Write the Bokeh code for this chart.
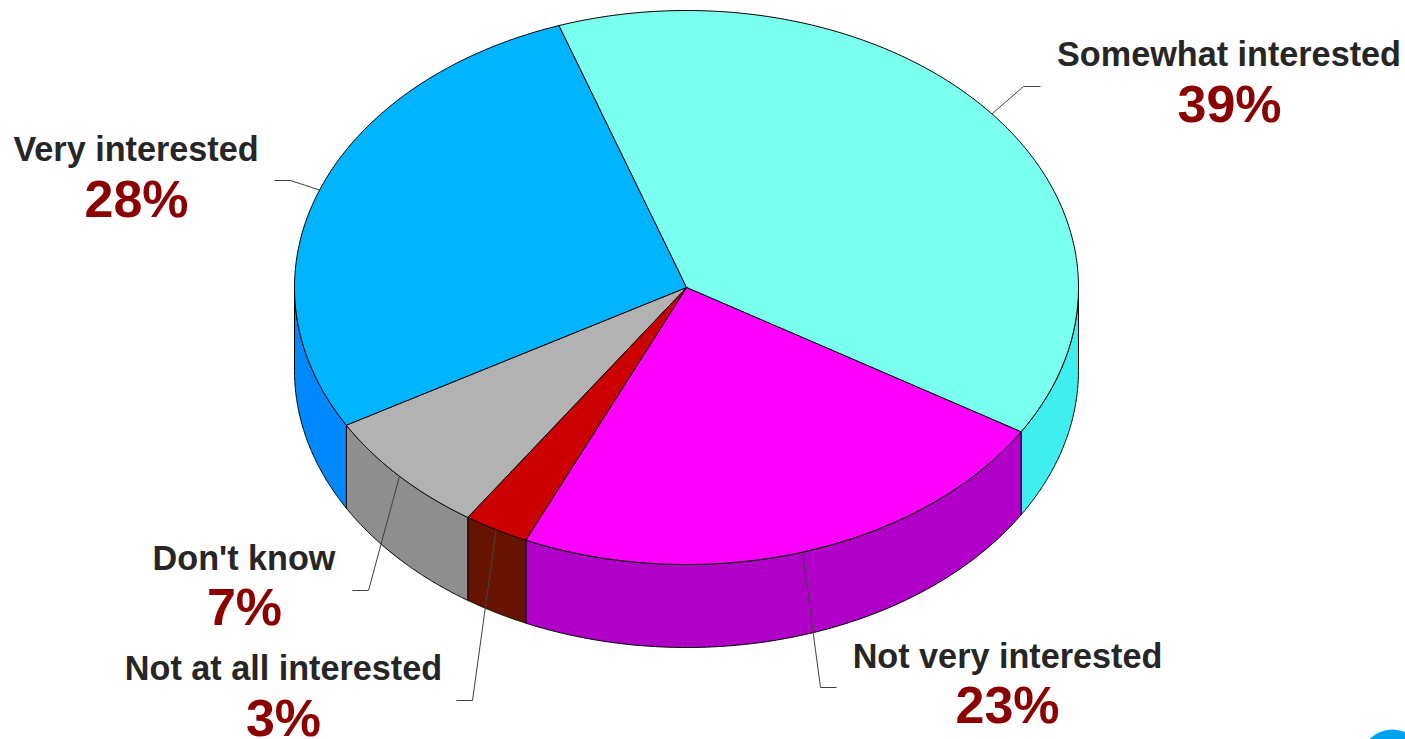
import numpy as np
from bokeh.plotting import figure
from bokeh.models import Range1d
from bokeh.core.properties import value
from bokeh.embed import file_html
from bokeh.resources import INLINE

categories = ["Somewhat interested", "Not very interested", "Not at all interested", "Don't know", "Very interested"]
shares = [39, 23, 2.7, 7.3, 28]
top_colors = ["#7BFFEE", "#FF00FF", "#CC0000", "#B2B2B2", "#00B4FF"]
side_colors = ["#40EEEE", "#B000C8", "#661400", "#8E8E8E", "#0088FF"]

# layout (in page pixels)
W, H = 1405, 739
CX, CY, RX, RY, DEPTH = 686, 287, 392, 277, 83
START = 109.0
LABEL_SIZE, VALUE_SIZE = 34.2, 52
BASE_SHIFT = 0.38
elbows = [(1023, 86, 1040), (820, 687, 836), (472, 700, 456), (368, 590, 352), (290, 180, 274)]
label_pos = [(1228.5, 66), (1007, 668), (283, 680), (243.5, 570), (135.5, 161)]
value_pos = [(1229, 123), (1007, 724), (283, 737), (244, 626), (136, 218)]

p = figure(width=W, height=H, x_range=Range1d(0, W), y_range=Range1d(H, 0),
           toolbar_location=None, output_backend="svg", min_border=0,
           outline_line_color=None, background_fill_color="white", border_fill_color="white")
p.axis.visible = False
p.grid.visible = False


def ex(a):
    return CX + RX * np.cos(np.radians(a))


def ey(a):
    return CY - RY * np.sin(np.radians(a))


bounds = START - np.cumsum([0] + [s * 3.6 for s in shares])

# side walls (front half only: parameter angle between 180 and 360 degrees)
sx, sy, sc = [], [], []
for i in range(len(shares)):
    hi, lo = bounds[i] % 360, (bounds[i] % 360) - shares[i] * 3.6
    for shift in (0, 360, -360):
        a0, a1 = max(lo + shift, 180), min(hi + shift, 360)
        if a1 > a0:
            a = np.linspace(a0, a1, 120)
            sx.append(np.r_[ex(a), ex(a[::-1])])
            sy.append(np.r_[ey(a), ey(a[::-1]) + DEPTH])
            sc.append(side_colors[i])
p.patches(sx, sy, fill_color=sc, line_color="black", line_width=1)

# top faces
tx, ty = [], []
for i in range(len(shares)):
    a = np.linspace(bounds[i], bounds[i + 1], 240)
    tx.append(np.r_[CX, ex(a)])
    ty.append(np.r_[CY, ey(a)])
p.patches(tx, ty, fill_color=top_colors, line_color="black", line_width=1)

# leader lines start at each slice's middle on the rim
lx, ly = [], []
for i in range(len(shares)):
    m = (bounds[i] + bounds[i + 1]) / 2
    ex1, ey1, ex2 = elbows[i]
    lx.append([ex(m), ex1, ex2])
    ly.append([ey(m), ey1, ey1])
p.multi_line(lx, ly, line_color="#404040", line_width=1)

# corner decoration
p.ellipse(x=[1392], y=[765], width=[68], height=[72], fill_color="#00A2F0", line_color=None)

p.text(x=[q[0] for q in label_pos], y=[q[1] - BASE_SHIFT * LABEL_SIZE for q in label_pos], text=categories,
       text_font=value("Liberation Sans"), text_font_style="bold", text_font_size=f"{LABEL_SIZE}px",
       text_color="#262626", text_align="center", text_baseline="alphabetic")
p.text(x=[q[0] for q in value_pos], y=[q[1] - BASE_SHIFT * VALUE_SIZE for q in value_pos],
       text=[f"{s:.0f}%" for s in shares],
       text_font=value("Liberation Sans"), text_font_style="bold", text_font_size=f"{VALUE_SIZE}px",
       text_color="#8B0000", text_align="center", text_baseline="alphabetic")

open("out.html", "w").write(file_html(p, INLINE))
